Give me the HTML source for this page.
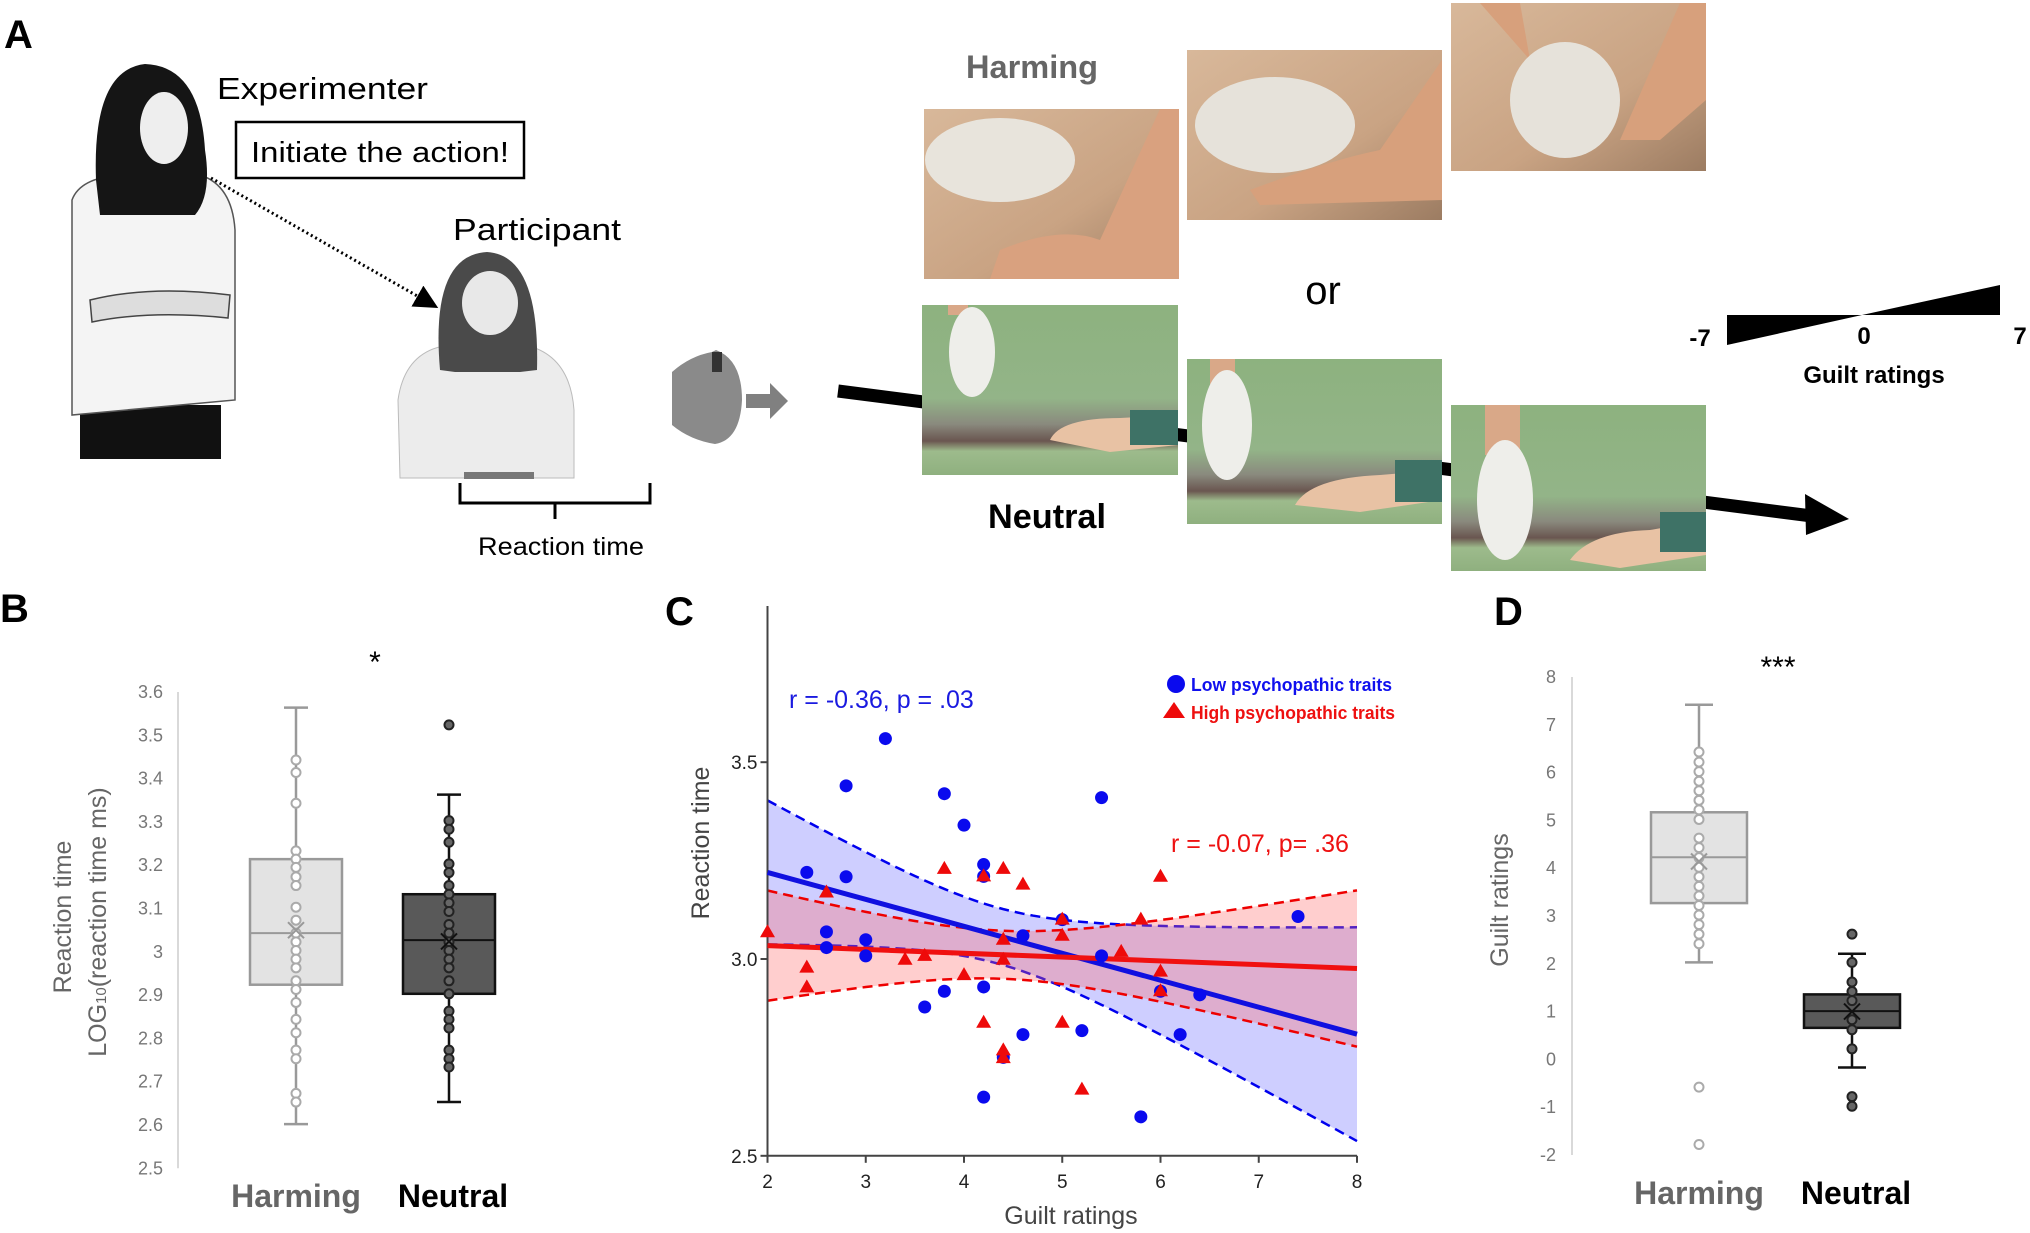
<!DOCTYPE html>
<html><head><meta charset="utf-8"><style>
html,body{margin:0;padding:0;background:#fff;width:2030px;height:1233px;overflow:hidden}
svg{display:block}
text{font-family:"Liberation Sans",sans-serif}
.nar{font-family:"Liberation Sans Narrow","Liberation Sans",sans-serif}
</style></head><body>
<svg id="fig" width="2030" height="1233" viewBox="0 0 2030 1233" xmlns="http://www.w3.org/2000/svg">
<defs>
<linearGradient id="sand" x1="0" y1="0" x2="1" y2="1"><stop offset="0" stop-color="#d8b89a"/><stop offset="0.6" stop-color="#c9a383"/><stop offset="1" stop-color="#9c7c62"/></linearGradient>
<linearGradient id="green" x1="0" y1="0" x2="0" y2="1"><stop offset="0" stop-color="#8db27f"/><stop offset="0.55" stop-color="#93b488"/><stop offset="0.7" stop-color="#8a8a7e"/><stop offset="0.8" stop-color="#6a5650"/><stop offset="0.86" stop-color="#9dbb8c"/><stop offset="1" stop-color="#8fb07f"/></linearGradient>
<marker id="ah" markerWidth="8" markerHeight="8" refX="6" refY="4" orient="auto"><path d="M0,0 L8,4 L0,8 z" fill="#000"/></marker>
</defs>

<!-- Panel A -->
<g>
<text x="4" y="48" font-size="40" font-weight="bold" class="nar">A</text>
<!-- experimenter -->
<g>
<rect x="80" y="405" width="141" height="54" fill="#111"/>
<path d="M72,200 Q80,178 120,175 L200,175 Q232,185 235,230 L235,400 L72,415 Z" fill="#f4f4f4" stroke="#555" stroke-width="1.5"/>
<path d="M96,180 Q92,70 145,64 Q200,66 205,150 Q212,195 195,215 L100,215 Z" fill="#151515"/>
<ellipse cx="164" cy="128" rx="24" ry="36" fill="#eee"/>
<path d="M90,300 Q150,285 230,295 L228,318 Q150,310 92,322 Z" fill="#ddd" stroke="#444" stroke-width="1.5"/>
</g>
<text x="217" y="99" font-size="31" class="nar" textLength="211" lengthAdjust="spacingAndGlyphs">Experimenter</text>
<rect x="236" y="122" width="288" height="56" fill="#fff" stroke="#000" stroke-width="2.5"/>
<text x="251" y="162" font-size="29" class="nar" textLength="258" lengthAdjust="spacingAndGlyphs">Initiate the action!</text>
<line x1="211" y1="178" x2="433" y2="305" stroke="#000" stroke-width="3" stroke-dasharray="2,3" marker-end="url(#ah)"/>
<text x="453" y="240" font-size="31" class="nar" textLength="168" lengthAdjust="spacingAndGlyphs">Participant</text>
<g>
<path d="M400,478 L398,400 Q405,350 450,345 L525,345 Q570,355 574,410 L574,478 Z" fill="#ececec" stroke="#bbb"/>
<path d="M440,370 Q430,255 487,252 Q540,255 537,370 L520,372 L455,372 Z" fill="#4a4a4a"/>
<ellipse cx="490" cy="303" rx="28" ry="32" fill="#e8e8e8"/>
<rect x="464" y="472" width="70" height="7" fill="#777"/>
</g>
<path d="M460,483 L460,503 L650,503 L650,483 M555,503 L555,519" fill="none" stroke="#000" stroke-width="3"/>
<text x="561" y="555" font-size="25" class="nar" text-anchor="middle" textLength="166" lengthAdjust="spacingAndGlyphs">Reaction time</text>
<g>
<path d="M672,372 Q690,356 712,352 L716,350 Q742,360 742,400 Q740,440 715,444 Q690,440 672,425 Z" fill="#8a8a8a"/>
<rect x="712" y="352" width="10" height="20" fill="#333"/>
</g>
<path d="M746,394 L770,394 L770,383 L788,401 L770,419 L770,408 L746,408 Z" fill="#808080"/>
<line x1="838" y1="391" x2="1812" y2="516" stroke="#000" stroke-width="13"/>
<path d="M1805,494 L1849,519 L1806,535 Z" fill="#000"/>
<text x="1032" y="78" font-size="32" font-weight="bold" fill="#666" class="nar" text-anchor="middle" textLength="132" lengthAdjust="spacingAndGlyphs">Harming</text>
<g><rect x="924" y="109" width="255" height="170" fill="url(#sand)"/><ellipse cx="1000" cy="160" rx="75" ry="42" fill="#e8e4dc"/><path d="M1000,250 Q1060,225 1100,240 L1160,109 L1179,109 L1179,279 L990,279 Z" fill="#d9a17f"/></g>
<g><rect x="1187" y="50" width="255" height="170" fill="url(#sand)"/><ellipse cx="1275" cy="125" rx="80" ry="48" fill="#e6e2da"/><path d="M1250,190 Q1330,160 1380,150 L1442,60 L1442,200 L1260,205 Z" fill="#d7a07c"/></g>
<g><rect x="1451" y="3" width="255" height="168" fill="url(#sand)"/><path d="M1480,3 L1520,3 L1530,60 Z" fill="#d7a07c"/><ellipse cx="1565" cy="100" rx="55" ry="58" fill="#e6e2da"/><path d="M1620,140 L1680,3 L1706,3 L1706,100 L1660,140 Z" fill="#d7a07c"/></g>
<text x="1323" y="304" font-size="40" class="nar" text-anchor="middle">or</text>
<g><rect x="922" y="305" width="256" height="170" fill="url(#green)"/><rect x="948" y="305" width="20" height="10" fill="#d9a888"/><ellipse cx="972" cy="352" rx="23" ry="45" fill="#eeeeea"/><path d="M1050,440 Q1060,418 1120,418 L1178,415 L1178,445 L1110,452 Z" fill="#e8c2a4"/><rect x="1130" y="410" width="48" height="35" fill="#3e7266"/></g>
<g><rect x="1187" y="359" width="255" height="165" fill="url(#green)"/><rect x="1210" y="359" width="25" height="25" fill="#d9a888"/><ellipse cx="1227" cy="425" rx="25" ry="55" fill="#eeeeea"/><path d="M1295,505 Q1310,478 1380,475 L1442,470 L1442,500 L1360,512 Z" fill="#e8c2a4"/><rect x="1395" y="460" width="47" height="42" fill="#3e7266"/></g>
<g><rect x="1451" y="405" width="255" height="166" fill="url(#green)"/><rect x="1485" y="405" width="35" height="50" fill="#d9a888"/><ellipse cx="1505" cy="500" rx="28" ry="60" fill="#eeeeea"/><path d="M1570,560 Q1590,532 1650,530 L1706,520 L1706,555 L1620,568 Z" fill="#e8c2a4"/><rect x="1660" y="512" width="46" height="40" fill="#3e7266"/></g>
<text x="1047" y="528" font-size="34" font-weight="bold" class="nar" text-anchor="middle" textLength="118" lengthAdjust="spacingAndGlyphs">Neutral</text>
<g>
<path d="M1727,315 L1727,345 L1862,315 Z" fill="#000"/>
<path d="M1862,315 L2000,285 L2000,315 Z" fill="#000"/>
<text x="1700" y="346" font-size="24" font-weight="bold" class="nar" text-anchor="middle">-7</text>
<text x="1864" y="344" font-size="24" font-weight="bold" class="nar" text-anchor="middle">0</text>
<text x="2020" y="344" font-size="24" font-weight="bold" class="nar" text-anchor="middle">7</text>
<text x="1874" y="383" font-size="24" font-weight="bold" class="nar" text-anchor="middle">Guilt ratings</text>
</g>
</g>

<!-- Panel labels -->
<text x="0" y="622" font-size="40" font-weight="bold">B</text>
<text x="665" y="625" font-size="40" font-weight="bold">C</text>
<text x="1494" y="625" font-size="40" font-weight="bold">D</text>

<g id="panelB"></g>
<g id="panelC"></g>
<g id="panelD"></g>
</svg>
<script>
// ---------- Panel B data ----------
const bTicks = [2.5,2.6,2.7,2.8,2.9,3,3.1,3.2,3.3,3.4,3.5,3.6];
const bTickLabels = ["2.5","2.6","2.7","2.8","2.9","3","3.1","3.2","3.3","3.4","3.5","3.6"];
const bCategories = ["Harming","Neutral"];
const bHarmStats = [2.602, 2.924, 3.043, 3.214, 3.564, 3.05]; // min,q1,median,q3,max,mean
const bNeutStats = [2.653, 2.903, 3.027, 3.133, 3.363, 3.024];
const bHarmPoints = [3.443,3.414,3.343,3.233,3.214,3.195,3.173,3.153,3.103,3.073,3.043,3.023,3.003,2.983,2.963,2.933,2.913,2.883,2.844,2.813,2.773,2.753,2.673,2.653];
const bNeutPoints = [3.524,3.303,3.283,3.253,3.203,3.183,3.153,3.133,3.113,3.093,3.063,3.043,3.023,3.003,2.983,2.963,2.933,2.903,2.863,2.844,2.824,2.773,2.753,2.734];
// ---------- Panel C data ----------
const cXTicks = [2,3,4,5,6,7,8];
const cYTicks = [2.5,3.0,3.5];
const cYTickLabels = ["2.5","3.0","3.5"];
const lowX = [2.4,2.6,2.6,2.8,2.8,3.0,3.0,3.2,3.6,3.8,3.8,4.0,4.2,4.2,4.2,4.2,4.4,4.6,4.6,5.0,5.2,5.4,5.4,5.8,6.0,6.2,6.4,7.4];
const lowY = [3.22,3.069,3.029,3.44,3.209,3.049,3.008,3.56,2.878,3.42,2.918,3.34,3.24,3.21,2.929,2.649,2.75,3.059,2.808,3.10,2.818,3.41,3.008,2.599,2.918,2.808,2.909,3.108];
const highX = [2.0,2.4,2.4,2.6,3.4,3.6,3.8,4.0,4.2,4.2,4.4,4.4,4.4,4.4,4.4,4.6,5.0,5.0,5.0,5.2,5.6,5.8,6.0,6.0,6.0];
const highY = [3.068,2.978,2.928,3.169,2.998,3.008,3.229,2.959,3.21,2.838,3.229,3.049,2.998,2.768,2.748,3.189,3.10,3.059,2.838,2.668,3.018,3.10,3.209,2.968,2.918];
const lowFit = [3.22, -0.0685];   // value at x=2, slope
const highFit = [3.034, -0.0097];
const lowCI = [0.071, 0.0718, 4.35];  // a, b, centre
const highCI = [0.061, 0.0525, 4.4];
// ---------- Panel D data ----------
const dTicks = [-2,-1,0,1,2,3,4,5,6,7,8];
const dTickLabels = ["-2","-1","0","1","2","3","4","5","6","7","8"];
const dHarmStats = [2.03, 3.27, 4.23, 5.17, 7.42, 4.14];
const dNeutStats = [-0.17, 0.66, 1.01, 1.36, 2.21, 1.0];
const dHarmPoints = [6.43,6.22,6.02,5.82,5.62,5.42,5.22,5.02,4.63,4.43,4.22,4.02,3.82,3.62,3.42,3.22,3.02,2.82,2.62,2.42,-0.58,-1.78];
const dNeutPoints = [2.62,2.03,1.62,1.42,1.23,0.83,0.62,0.22,-0.78,-0.98];

const NS = "http://www.w3.org/2000/svg";
function mk(parent, tag, attrs, txt){
  const e = document.createElementNS(NS, tag);
  for (const k in attrs) e.setAttribute(k, attrs[k]);
  if (txt !== undefined) e.textContent = txt;
  parent.appendChild(e);
  return e;
}

function boxPanel(g, cfg){
  const y = v => cfg.y0 + (cfg.vmax - v) * cfg.ppu;
  const axis = mk(g,'line',{x1:cfg.axisX,x2:cfg.axisX,y1:y(cfg.vmax),y2:y(cfg.vmin),stroke:'#d9d9d9','stroke-width':2});
  
  
  cfg.ticks.forEach((t,i)=>{
    const tl = mk(g,'text',{x:cfg.tickX,y:y(t)+6,'font-size':18,fill:'#777','text-anchor':'end'},cfg.tickLabels[i]);
    
    
  });
  const groups = [[cfg.harm,cfg.harmPts,cfg.cx[0],'#e3e3e3','#999','#aaa','#fff'],[cfg.neut,cfg.neutPts,cfg.cx[1],'#595959','#111','#222','#666']];
  groups.forEach((gr,gi)=>{
    const [s,pts,cx,fill,stroke,ptStroke,ptFill] = gr;
    const gg = mk(g,'g',{});
    
    
    mk(gg,'line',{x1:cx,x2:cx,y1:y(s[4]),y2:y(s[0]),stroke:stroke,'stroke-width':2.5});
    mk(gg,'line',{x1:cx-cfg.cap,x2:cx+cfg.cap,y1:y(s[4]),y2:y(s[4]),stroke:stroke,'stroke-width':2.5});
    mk(gg,'line',{x1:cx-cfg.cap,x2:cx+cfg.cap,y1:y(s[0]),y2:y(s[0]),stroke:stroke,'stroke-width':2.5});
    mk(gg,'rect',{x:cx-cfg.hw,y:y(s[3]),width:2*cfg.hw,height:y(s[1])-y(s[3]),fill:fill,stroke:stroke,'stroke-width':2.5});
    mk(gg,'line',{x1:cx-cfg.hw,x2:cx+cfg.hw,y1:y(s[2]),y2:y(s[2]),stroke:stroke,'stroke-width':2});
    pts.forEach(p=>{
      const c = mk(gg,'circle',{cx:cx,cy:y(p),r:4.5,fill:ptFill,stroke:ptStroke,'stroke-width':2});
      
      
    });
    const my = y(s[5]);
    mk(gg,'path',{d:`M${cx-8},${my-8}L${cx+8},${my+8}M${cx-8},${my+8}L${cx+8},${my-8}`,stroke:stroke,'stroke-width':2});
  });
  const h = mk(g,'text',{x:cfg.cx[0],y:cfg.labY,'font-size':32,'font-weight':'bold',fill:'#666','text-anchor':'middle'},'Harming');
  
  
  const n = mk(g,'text',{x:cfg.cx[1]+4,y:cfg.labY,'font-size':32,'font-weight':'bold',fill:'#000','text-anchor':'middle'},'Neutral');
  
  
  const st = mk(g,'text',{x:cfg.starX,y:cfg.starY,'font-size':30,fill:'#000','text-anchor':'middle'},cfg.star);
  
  
}

// Panel B
(function(){
  const g = document.getElementById('panelB');
  boxPanel(g,{vmin:2.5,vmax:3.6,y0:692,ppu:433,axisX:178,tickX:163,ticks:bTicks,tickLabels:bTickLabels,
    harm:bHarmStats,neut:bNeutStats,harmPts:bHarmPoints,neutPts:bNeutPoints,cx:[296,449],hw:46,cap:12,labY:1207,
    starX:375,starY:672,star:'*'});
  const t = mk(g,'text',{'font-size':25,fill:'#666','text-anchor':'middle',transform:'translate(71,917) rotate(-90)'},'Reaction time');
  
  
  const t2 = mk(g,'text',{'font-size':25,fill:'#666','text-anchor':'middle',transform:'translate(106,922) rotate(-90)'});
  
  
  mk(t2,'tspan',{},'LOG');
  mk(t2,'tspan',{'font-size':15},'10');
  mk(t2,'tspan',{},'(reaction time ms)');
})();

// Panel D
(function(){
  const g = document.getElementById('panelD');
  boxPanel(g,{vmin:-2,vmax:8,y0:677,ppu:47.8,axisX:1572,tickX:1556,ticks:dTicks,tickLabels:dTickLabels,
    harm:dHarmStats,neut:dNeutStats,harmPts:dHarmPoints,neutPts:dNeutPoints,cx:[1699,1852],hw:48,cap:14,labY:1204,
    starX:1778,starY:677,star:'***'});
  const t = mk(g,'text',{'font-size':25,fill:'#666','text-anchor':'middle',transform:'translate(1508,900) rotate(-90)'},'Guilt  ratings');
  
  
})();

// Panel C
(function(){
  const g = document.getElementById('panelC');
  const X = v => 767.5 + (v-2)*98.25;
  const Y = v => 959 - (v-3)*393.6;
  function band(fit, ci, color, lineColor){
    const xs=[]; for(let x=2;x<=8.0001;x+=0.1) xs.push(x);
    const f = x => fit[0] + fit[1]*(x-2);
    const w = x => Math.sqrt(ci[0]*ci[0] + ci[1]*ci[1]*(x-ci[2])*(x-ci[2]));
    const up = xs.map(x=>[X(x),Y(f(x)+w(x))]);
    const lo = xs.map(x=>[X(x),Y(f(x)-w(x))]);
    const poly = up.concat(lo.slice().reverse()).map(p=>p.join(',')).join(' ');
    const b = mk(g,'polygon',{points:poly,fill:color,'fill-opacity':0.32,stroke:'none'});
    
    
    [up,lo].forEach(arr=>{
      const l = mk(g,'polyline',{points:arr.map(p=>p.join(',')).join(' '),fill:'none',stroke:lineColor,'stroke-width':2.5,'stroke-dasharray':'10,6'});
      
      
    });
  }
  band(lowFit, lowCI, '#6666ff', '#0000ee');
  band(highFit, highCI, '#ff6666', '#ee0000');
  // axes
  const ax = mk(g,'path',{d:`M${X(2)},606 L${X(2)},${Y(2.5)} L${X(8)},${Y(2.5)}`,fill:'none',stroke:'#444','stroke-width':2});
  
  
  cXTicks.forEach(t=>{
    mk(g,'line',{x1:X(t),x2:X(t),y1:Y(2.5),y2:Y(2.5)+7,stroke:'#444','stroke-width':2});
    const l = mk(g,'text',{x:X(t),y:Y(2.5)+32,'font-size':19,'text-anchor':'middle',fill:'#222'},String(t));
    
    
  });
  cYTicks.forEach((t,i)=>{
    mk(g,'line',{x1:X(2)-7,x2:X(2),y1:Y(t),y2:Y(t),stroke:'#444','stroke-width':2});
    const l = mk(g,'text',{x:X(2)-10,y:Y(t)+7,'font-size':19,'text-anchor':'end',fill:'#222'},cYTickLabels[i]);
    
    
  });
  // fit lines
  [[lowFit,'#1010e0'],[highFit,'#f01010']].forEach(([fit,c],i)=>{
    const l = mk(g,'line',{x1:X(2),y1:Y(fit[0]),x2:X(8),y2:Y(fit[0]+fit[1]*6),stroke:c,'stroke-width':5});
    
    
  });
  // points
  lowX.forEach((x,i)=>{
    const c = mk(g,'circle',{cx:X(x),cy:Y(lowY[i]),r:6.5,fill:'#0a0aee'});
    
    
  });
  highX.forEach((x,i)=>{
    const px=X(x), py=Y(highY[i]);
    const t = mk(g,'path',{d:`M${px},${py-8} L${px+7.5},${py+5} L${px-7.5},${py+5} Z`,fill:'#ee0a0a'});
    
    
  });
  // labels
  const r1 = mk(g,'text',{x:789,y:708,'font-size':25,fill:'#1a1ae0'},'r = -0.36, p = .03');
  
  
  const r2 = mk(g,'text',{x:1171,y:852,'font-size':25,fill:'#ee1111'},'r = -0.07, p= .36');
  
  
  const lg = mk(g,'g',{});
  
  
  const le1 = mk(lg,'circle',{cx:1176,cy:684,r:9,fill:'#0a0aee'});
  
  
  mk(lg,'text',{x:1191,y:691,'font-size':18,'font-weight':'bold',fill:'#1010ee',textLength:201,lengthAdjust:'spacingAndGlyphs'},'Low psychopathic traits');
  const le2 = mk(lg,'path',{d:'M1174,702 L1185,718 L1163,718 Z',fill:'#ee0a0a'});
  
  
  mk(lg,'text',{x:1191,y:719,'font-size':18,'font-weight':'bold',fill:'#ee1010',textLength:204,lengthAdjust:'spacingAndGlyphs'},'High psychopathic traits');
  const yt = mk(g,'text',{'font-size':25,fill:'#444','text-anchor':'middle',transform:'translate(709,843) rotate(-90)'},'Reaction time');
  
  
  const xt = mk(g,'text',{x:1071,y:1224,'font-size':25,fill:'#444','text-anchor':'middle'},'Guilt  ratings');
  
  
})();
</script>
</body></html>
